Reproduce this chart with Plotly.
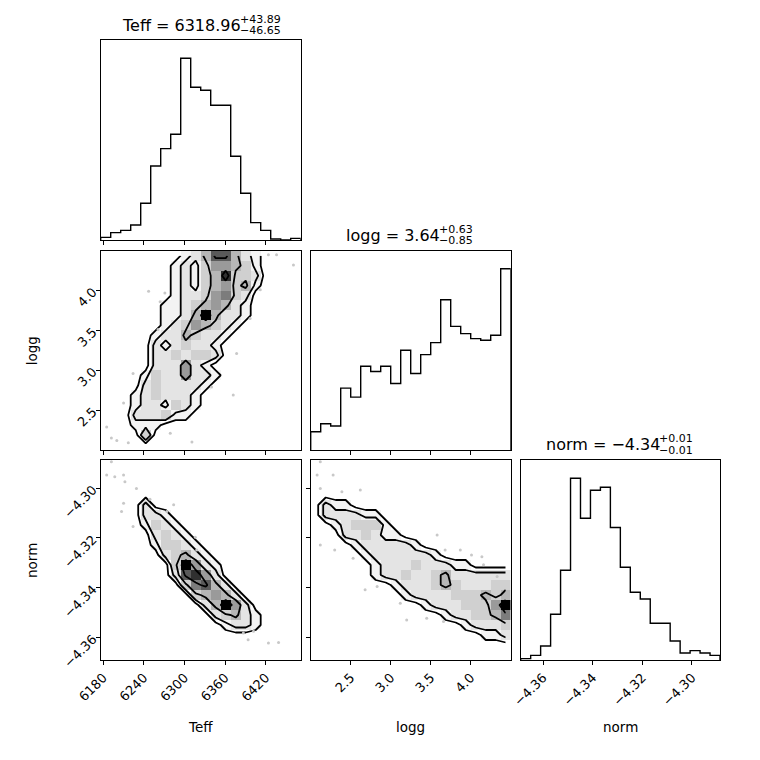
import numpy as np
import plotly.graph_objects as go

PAGE = 760      # size of the reference picture
OFF = 8         # body margin of the html page
W = H = PAGE - OFF

# axis ranges (data units)
teff_range = [6176.2, 6471.7]
logg_range = [2.0, 4.5]
norm_range = [-4.3690, -4.2887]

teff_ticks = [6180, 6240, 6300, 6360, 6420]
teff_ticktext = ["6180", "6240", "6300", "6360", "6420"]
logg_ticks = [2.5, 3.0, 3.5, 4.0]
logg_ticktext = ["2.5", "3.0", "3.5", "4.0"]
norm_ticks = [-4.36, -4.34, -4.32, -4.30]
norm_ticktext = ["−4.36", "−4.34", "−4.32", "−4.30"]

# 1D histograms, 20 bins each (relative counts)
teff_hist = [8, 22, 29, 45, 110, 222, 274, 317, 545, 458, 449, 404, 404, 251, 140, 52, 29, 3, 0, 5]
logg_hist = [55, 79, 72, 186, 159, 252, 236, 252, 200, 300, 230, 287, 323, 452, 372, 350, 335, 330, 345, 545]
norm_hist = [4, 14, 42, 137, 269, 545, 425, 509, 518, 397, 278, 203, 183, 110, 110, 57, 21, 28, 21, 14]

# 2D histograms, 20x20, rows listed from top (high y) to bottom, digit = density level
logg_teff_grid = [
    "00000000124774210000",
    "00000001213554310000",
    "00000001213483320000",
    "00000001213453410000",
    "00000001223563200000",
    "00000011234542100000",
    "00000011249422100000",
    "00000012354321000000",
    "00000122432210000000",
    "00000212322100000000",
    "00000223233200000000",
    "00000222521000000000",
    "00001322522100000000",
    "00002322221000000000",
    "00012322210000000000",
    "00012213210000000000",
    "00022231100000000000",
    "00011100000000000000",
    "00003000000000000000",
    "00000000000000000000",
]
norm_teff_grid = [
    "00000000000000000000",
    "00000000000000000000",
    "00000000000000000000",
    "00000000000000000000",
    "00002000000000000000",
    "00002210000000000000",
    "00001321000000000000",
    "00000232100000000000",
    "00000133210000000000",
    "00000023421000000000",
    "00000003952100000000",
    "00000002785200000000",
    "00000000367420000000",
    "00000000034542000000",
    "00000000002495200000",
    "00000000000234210000",
    "00000000000012210000",
    "00000000000000000000",
    "00000000000000000000",
    "00000000000000000000",
]
norm_logg_grid = [
    "00000000000000000000",
    "00000000000000000000",
    "00000000000000000000",
    "00000000000000000000",
    "02110000000000000000",
    "02222110000000000000",
    "00123331000000000000",
    "00022321100000000000",
    "00001222221000000000",
    "00000122222210000000",
    "00000012223222110000",
    "00000012232234222222",
    "00000000122234322233",
    "00000000012222333434",
    "00000000000122233359",
    "00000000000001223346",
    "00000000000000012223",
    "00000000000000000112",
    "00000000000000000000",
    "00000000000000000000",
]

# scattered samples outside the contours
pts_lt_teff = [6185, 6192, 6200, 6217, 6210, 6224, 6247, 6264, 6271, 6261, 6311, 6372, 6377, 6397, 6412, 6424, 6436, 6461, 6340, 6279]
pts_lt_logg = [2.29, 2.15, 2.12, 2.09, 2.59, 2.96, 3.99, 3.86, 3.97, 3.51, 2.10, 2.69, 3.21, 3.65, 4.01, 4.45, 4.45, 4.32, 2.79, 2.21]
pts_nt_teff = [6192, 6185, 6197, 6210, 6212, 6229, 6210, 6207, 6224, 6249, 6274, 6284, 6316, 6318, 6387, 6394, 6424, 6439, 6402]
pts_nt_norm = [-4.2894, -4.2947, -4.2954, -4.2947, -4.2974, -4.3001, -4.3061, -4.3094, -4.3154, -4.3045, -4.3094, -4.3067,
               -4.3197, -4.3248, -4.3582, -4.3609, -4.3622, -4.3620, -4.3575]
pts_nl_logg = [2.12, 2.08, 2.28, 2.12, 2.39, 2.62, 2.12, 2.30, 2.53, 2.68, 2.83, 3.12, 3.20, 3.45, 3.66, 3.58, 3.68, 3.87, 4.01, 4.14, 4.16, 4.33]
pts_nl_norm = [-4.2894, -4.2947, -4.2947, -4.3001, -4.3014, -4.3007, -4.3228, -4.3248, -4.3281, -4.3408, -4.3395, -4.3462,
               -4.3529, -4.3522, -4.3535, -4.3188, -4.3248, -4.3248, -4.3268, -4.3275, -4.3308, -4.3355]

titles = [
    ("Teff = 6318.96", "+43.89", "−46.65"),
    ("logg = 3.64", "+0.63", "−0.85"),
    ("norm = −4.34", "+0.01", "−0.01"),
]
labels = ["Teff", "logg", "norm"]

contour_levels = [0.5, 1.5, 3.5, 6.5]
FONT = "DejaVu Sans"

# white -> black, light at the low end like the reference density map
greys = [[0, "#ffffff"], [1 / 9, "#f3f3f3"], [2 / 9, "#e4e4e4"], [3 / 9, "#d0d0d0"], [4 / 9, "#b6b6b6"],
         [5 / 9, "#9a9a9a"], [6 / 9, "#7c7c7c"], [7 / 9, "#5a5a5a"], [8 / 9, "#303030"], [1, "#000000"]]


def px_x(p):
    return (p - OFF) / W


def px_y(p):
    return 1 - (p - OFF) / H


col_dom = [[px_x(100.7), px_x(300.7)], [px_x(310.7), px_x(510.7)], [px_x(520.7), px_x(720.0)]]
row_dom = [[px_y(240), px_y(40)], [px_y(450), px_y(250.7)], [px_y(660), px_y(460)]]


def step_xy(rng, counts):
    edges = np.linspace(rng[0], rng[1], len(counts) + 1)
    xs, ys = [edges[0]], [0]
    for i, c in enumerate(counts):
        xs += [edges[i], edges[i + 1]]
        ys += [c, c]
    xs.append(edges[-1])
    ys.append(0)
    return xs, ys


def centers(rng, n):
    edges = np.linspace(rng[0], rng[1], n + 1)
    return 0.5 * (edges[:-1] + edges[1:])


def grid_z(rows):
    return [[int(ch) for ch in r] for r in reversed(rows)]


fig = go.Figure()


def add_hist(k, rng, counts):
    xs, ys = step_xy(rng, counts)
    fig.add_trace(go.Scatter(x=xs, y=ys, mode="lines", line=dict(color="black", width=1.4),
                             xaxis=f"x{k}", yaxis=f"y{k}", hoverinfo="skip"))


def add_2d(k, xr, yr, rows, px, py):
    z = grid_z(rows)
    xc = centers(xr, len(rows[0]))
    yc = centers(yr, len(rows))
    fig.add_trace(go.Heatmap(x=xc, y=yc, z=z, zmin=0, zmax=9, colorscale=greys, showscale=False,
                             xaxis=f"x{k}", yaxis=f"y{k}", hoverinfo="skip"))
    fig.add_trace(go.Scatter(x=px, y=py, mode="markers", marker=dict(color="#c8c8c8", size=3),
                             xaxis=f"x{k}", yaxis=f"y{k}", hoverinfo="skip"))
    for lv in contour_levels:
        fig.add_trace(go.Contour(x=xc, y=yc, z=z, showscale=False,
                                 contours=dict(coloring="none", start=lv, end=lv, size=1),
                                 line=dict(color="black", width=1.8, smoothing=0),
                                 xaxis=f"x{k}", yaxis=f"y{k}", hoverinfo="skip"))


add_hist(1, teff_range, teff_hist)
add_2d(2, teff_range, logg_range, logg_teff_grid, pts_lt_teff, pts_lt_logg)
add_hist(3, logg_range, logg_hist)
add_2d(4, teff_range, norm_range, norm_teff_grid, pts_nt_teff, pts_nt_norm)
add_2d(5, logg_range, norm_range, norm_logg_grid, pts_nl_logg, pts_nl_norm)
add_hist(6, norm_range, norm_hist)

tick_font = dict(family=FONT, size=13, color="black")
base = dict(showline=True, mirror=True, linecolor="black", linewidth=1, showgrid=False,
            zeroline=False, ticks="outside", ticklen=4, tickcolor="black", tickwidth=1,
            tickfont=tick_font, fixedrange=True, automargin=False)


def xax(dom, anchor, rng, vals, text, show):
    return dict(base, domain=dom, anchor=anchor, range=rng, tickvals=vals, ticktext=text,
                showticklabels=show, tickangle=-45)


def yax(dom, anchor, rng, vals=None, text=None, show=False):
    d = dict(base, domain=dom, anchor=anchor, range=rng, showticklabels=show, tickangle=-45)
    if vals is None:
        d.update(ticks="", tickvals=[])
    else:
        d.update(tickvals=vals, ticktext=text)
    return d


layout = dict(
    width=W, height=H, margin=dict(l=0, r=0, t=0, b=0, autoexpand=False),
    paper_bgcolor="white", plot_bgcolor="white", showlegend=False,
    font=dict(family=FONT, color="black"),
    xaxis1=xax(col_dom[0], "y1", teff_range, teff_ticks, teff_ticktext, False),
    yaxis1=yax(row_dom[0], "x1", [0, 1.1 * max(teff_hist)]),
    xaxis2=xax(col_dom[0], "y2", teff_range, teff_ticks, teff_ticktext, False),
    yaxis2=yax(row_dom[1], "x2", logg_range, logg_ticks, logg_ticktext, True),
    xaxis3=xax(col_dom[1], "y3", logg_range, logg_ticks, logg_ticktext, False),
    yaxis3=yax(row_dom[1], "x3", [0, 1.1 * max(logg_hist)]),
    xaxis4=xax(col_dom[0], "y4", teff_range, teff_ticks, teff_ticktext, True),
    yaxis4=yax(row_dom[2], "x4", norm_range, norm_ticks, norm_ticktext, True),
    xaxis5=xax(col_dom[1], "y5", logg_range, logg_ticks, logg_ticktext, True),
    yaxis5=yax(row_dom[2], "x5", norm_range, norm_ticks, norm_ticktext, False),
    xaxis6=xax(col_dom[2], "y6", norm_range, norm_ticks, norm_ticktext, True),
    yaxis6=yax(row_dom[2], "x6", [0, 1.1 * max(norm_hist)]),
)
fig.update_layout(**layout)

# titles with stacked super/subscripts
title_split = [241, 440, 660]
title_top = [40, 250.7, 460]
for (main, sup, sub), sx, top in zip(titles, title_split, title_top):
    fig.add_annotation(text=main, x=px_x(sx + 1), y=px_y(top - 15), xref="paper", yref="paper",
                       xanchor="right", yanchor="middle", showarrow=False, borderpad=0,
                       font=dict(family=FONT, size=16, color="black"))
    fig.add_annotation(text=sup, x=px_x(sx - 2), y=px_y(top - 21), xref="paper", yref="paper",
                       xanchor="left", yanchor="middle", showarrow=False, borderpad=0,
                       font=dict(family=FONT, size=11, color="black"))
    fig.add_annotation(text=sub, x=px_x(sx - 2), y=px_y(top - 10), xref="paper", yref="paper",
                       xanchor="left", yanchor="middle", showarrow=False, borderpad=0,
                       font=dict(family=FONT, size=11, color="black"))

# axis labels
for lab, cx in zip(labels, [200.7, 410.7, 620.3]):
    fig.add_annotation(text=lab, x=px_x(cx), y=px_y(727), xref="paper", yref="paper",
                       xanchor="center", yanchor="middle", showarrow=False,
                       font=dict(family=FONT, size=13.5, color="black"))
for lab, cy in zip(labels[1:], [350.3, 560]):
    fig.add_annotation(text=lab, x=px_x(32), y=px_y(cy), xref="paper", yref="paper",
                       xanchor="center", yanchor="middle", textangle=-90, showarrow=False,
                       font=dict(family=FONT, size=13.5, color="black"))

fig.write_html("out.html")
